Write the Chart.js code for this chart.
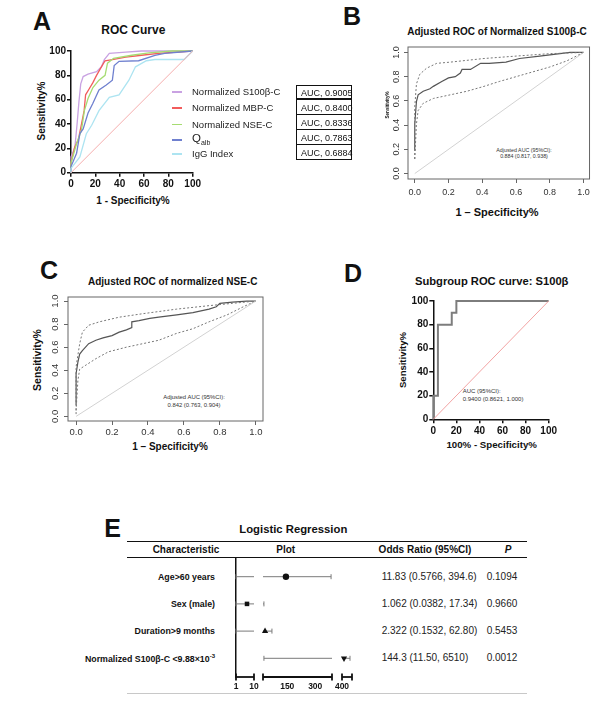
<!DOCTYPE html>
<html><head><meta charset="utf-8">
<script src="https://cdn.jsdelivr.net/npm/chart.js@4.4.1/dist/chart.umd.min.js"></script>
<style>
html,body{margin:0;padding:0;background:#fff;}
body{width:600px;height:704px;position:relative;overflow:hidden;font-family:"Liberation Sans",Arial,sans-serif;color:#111;}
canvas{position:absolute;}
.t{position:absolute;white-space:nowrap;line-height:1;}
.ln{position:absolute;}
</style></head><body>
<script>
// ---------------- DATA ----------------
// Panel A (percent)
const s100bX = [0,0,3.2,5,6.5,8,10,14,21,25,27.4,31.5,45,58,100];
const s100bY = [0,13,21,40,58,73,79,81,83,87,93,98,99,100,100];
const mbpX = [0,0,3,6,8.6,10.8,12,15,18,21,25,28,34,45,58,72,100];
const mbpY = [0,8,21,27,40,51,64,69,74,80,87,92,93,95,96.5,98,100];
const nseX = [0,0,4.6,8.6,11,14,18,23,28,30,35,50,64,83,100];
const nseY = [0,8,24,35,51,61,70,76,80,90,94,96.5,98.4,100,100];
const qalbX = [0,0,4.6,7.3,10,14,18,23,29,34,35.5,39.5,55.6,69,77,100];
const qalbY = [0,5,16,32,36,49,57,68,72,76,88,91.5,92,96.5,98,100];
const iggX = [0,0,7.3,12.6,17,23,31.5,39.5,47.6,53,62,69,93,100];
const iggY = [0,3.5,13,32,39,51,62,64,76,87,92,93,93,100];
const seriesNamesA = ['Normalized S100β-C','Normalized MBP-C','Normalized NSE-C','Q<sub>alb</sub>','IgG Index'];
const aucLabelsA = ['AUC, 0.9005','AUC, 0.8400','AUC, 0.8336','AUC, 0.7863','AUC, 0.6884'];
const diagX = [0,100];
const diagY = [0,100];
// Panel B (fraction)
const bSolidX = [0,0,0.01,0.02,0.05,0.09,0.11,0.16,0.2,0.24,0.27,0.28,0.33,0.39,0.44,0.54,0.62,0.74,0.86,0.92,1.0];
const bSolidY = [0.19,0.41,0.595,0.65,0.68,0.70,0.72,0.76,0.79,0.80,0.83,0.86,0.86,0.91,0.91,0.92,0.95,0.97,0.99,1.0,1.0];
const bUpX = [0,0,0.01,0.03,0.07,0.13,0.21,0.41,0.6,0.8,1.0];
const bUpY = [0.12,0.55,0.74,0.82,0.87,0.91,0.92,0.95,0.97,0.99,1.0];
const bLoX = [0,0.01,0.02,0.05,0.11,0.21,0.31,0.41,0.5,0.6,0.7,0.8,0.9,1.0];
const bLoY = [0.12,0.41,0.52,0.58,0.62,0.65,0.68,0.72,0.76,0.80,0.84,0.88,0.93,1.0];
// Panel C (fraction)
const cSolidX = [0,0,0.01,0.02,0.035,0.07,0.11,0.15,0.2,0.24,0.28,0.31,0.31,0.35,0.41,0.46,0.56,0.65,0.74,0.78,0.8,0.87,0.95,1.0];
const cSolidY = [0.1,0.37,0.47,0.54,0.57,0.63,0.66,0.68,0.70,0.73,0.75,0.77,0.82,0.83,0.85,0.86,0.88,0.90,0.93,0.95,0.98,0.99,1.0,1.0];
const cUpX = [0,0,0.02,0.035,0.07,0.13,0.24,0.37,0.56,0.74,0.87,1.0];
const cUpY = [0.02,0.43,0.63,0.73,0.79,0.82,0.86,0.89,0.93,0.96,0.98,1.0];
const cLoX = [0,0.01,0.02,0.05,0.11,0.18,0.28,0.37,0.46,0.56,0.65,0.74,0.84,0.93,1.0];
const cLoY = [0.05,0.31,0.41,0.44,0.5,0.56,0.6,0.63,0.66,0.72,0.76,0.82,0.88,0.95,1.0];
const rTicks = [0,0.2,0.4,0.6,0.8,1.0];
const unitDiag = [0,1];
// Panel D (percent)
const dX = [0,0,4,4,16,16,20,20,100];
const dY = [0,20,20,80,80,90,90,100,100];
// Panel E (forest, values on the plotted broken axis)
const forestLabels = ['Age&gt;60 years','Sex (male)','Duration&gt;9 months','Normalized S100β-C &lt;9.88×10<sup>-3</sup>'];
const forestOR = ['11.83 (0.5766, 394.6)','1.062 (0.0382, 17.34)','2.322 (0.1532, 62.80)','144.3 (11.50, 6510)'];
const forestP = ['0.1094','0.9660','0.5453','0.0012'];
const orPoint = [143, 6.5, 31, 412];
const orLo = [1, 1, 1, 25];
const orHi = [385, 25, 68, 448];
const forestTicks = [1,10,150,300,400];
const axisBreaks = [[1,10],[20,390],[400,460]];

// ---------------- HELPERS ----------------
Chart.defaults.font.family = '"Liberation Sans", Arial, sans-serif';
Chart.defaults.color = '#111';
const pts = (xs, ys) => xs.map((x, i) => ({x, y: ys[i]}));

function txt(html, x, y, o = {}) {
  const d = document.createElement('div');
  d.className = 't'; d.innerHTML = html;
  d.style.left = x + 'px'; d.style.top = y + 'px';
  d.style.fontSize = (o.size || 10) + 'px';
  d.style.fontWeight = o.bold ? 'bold' : 'normal';
  if (o.italic) d.style.fontStyle = 'italic';
  if (o.color) d.style.color = o.color;
  const ax = o.align === 'left' ? '0' : o.align === 'right' ? '-100%' : '-50%';
  d.style.transform = `translate(${ax},-50%)` + (o.rot ? ` rotate(${o.rot}deg)` : '');
  document.body.appendChild(d);
  return d;
}
function hline(x1, x2, y, w, c) {
  const d = document.createElement('div'); d.className = 'ln';
  d.style.left = x1 + 'px'; d.style.top = (y - w / 2) + 'px';
  d.style.width = (x2 - x1) + 'px'; d.style.height = w + 'px'; d.style.background = c;
  document.body.appendChild(d);
}

// place a chart so that its chart area is (L,T)-(R,B) in page coordinates
function place(L, T, R, B, Wy, Hx, pad, config) {
  const cl = Math.floor(L - Wy - pad.l), ct = Math.floor(T - pad.t);
  const w = Math.ceil(R + pad.r - cl), h = Math.ceil(B + Hx + pad.b - ct);
  const c = document.createElement('canvas');
  c.style.left = cl + 'px'; c.style.top = ct + 'px';
  c.style.width = w + 'px'; c.style.height = h + 'px';
  c.width = w; c.height = h;
  document.body.appendChild(c);
  config.options.layout = {autoPadding: false, padding: {
    left: L - Wy - cl, top: T - ct, right: cl + w - R, bottom: ct + h - Hx - B}};
  config.options.responsive = false;
  config.options.animation = false;
  config.options.events = [];
  config.options.plugins = Object.assign({legend: {display: false}, tooltip: {enabled: false}}, config.options.plugins || {});
  config.options.scales.x.afterFit = s => { s.height = Hx; };
  config.options.scales.y.afterFit = s => { s.width = Wy; };
  return new Chart(c, config);
}

function gpAxis(pad) {
  return {type: 'linear', min: 0, max: 100,
    ticks: {stepSize: 20, padding: pad, font: {size: 10, weight: 'bold'}, color: '#111', autoSkip: false, maxRotation: 0},
    grid: {display: true, drawOnChartArea: false, drawTicks: true, tickLength: 4, color: '#111', lineWidth: 1.5},
    border: {display: true, color: '#111', width: 1.5}};
}
function rAxis(min, max, pad, size, show) {
  return {type: 'linear', min, max,
    afterBuildTicks: s => { s.ticks = rTicks.map(v => ({value: v})); },
    ticks: {display: show, padding: pad, font: {size}, color: '#333', autoSkip: false, maxRotation: 0,
      callback: v => Number(v).toFixed(1)},
    grid: {display: true, drawOnChartArea: false, drawTicks: true, tickLength: 4, color: '#666', lineWidth: 1},
    border: {display: false}};
}
// R-style box + rotated y tick labels
const rBox = {
  id: 'rBox',
  afterDatasetsDraw(chart, args, opts) {
    const {ctx, chartArea: a} = chart;
    ctx.save();
    ctx.strokeStyle = '#666'; ctx.lineWidth = 1;
    ctx.strokeRect(a.left, a.top, a.right - a.left, a.bottom - a.top);
    const ys = chart.scales.y;
    ctx.fillStyle = '#333';
    ctx.font = opts.size + 'px "Liberation Sans", Arial, sans-serif';
    ctx.textAlign = 'center'; ctx.textBaseline = 'middle';
    ys.ticks.forEach(t => {
      ctx.save();
      ctx.translate(a.left - opts.off, ys.getPixelForValue(t.value));
      ctx.rotate(-Math.PI / 2);
      ctx.fillText(Number(t.value).toFixed(1), 0, 0);
      ctx.restore();
    });
    ctx.restore();
  }
};
function line(data, color, width, dash) {
  return {data, showLine: true, borderColor: color, borderWidth: width, borderDash: dash || [],
    pointRadius: 0, fill: false, tension: 0, clip: 3};
}

// ---------------- PANEL A ----------------
const colA = ['#c9a2e2', '#f25c5c', '#a6dc72', '#6f80cf', '#ade4f1'];
txt('A', 42, 21, {size: 25, bold: true});
txt('ROC Curve', 133.3, 30, {size: 12, bold: true});
txt('Sensitivity%', 41.7, 111, {size: 10, bold: true, rot: -90});
txt('1 - Specificity%', 133, 201, {size: 10, bold: true});
place(71, 50.7, 195, 172.7, 30, 24, {l: 2, t: 6, r: 8, b: 2}, {
  type: 'scatter',
  data: {datasets: [
    line(pts(diagX, diagY), '#f5adad', 1),
    line(pts(iggX, iggY), colA[4], 1.3),
    line(pts(qalbX, qalbY), colA[3], 1.3),
    line(pts(nseX, nseY), colA[2], 1.3),
    line(pts(mbpX, mbpY), colA[1], 1.3),
    line(pts(s100bX, s100bY), colA[0], 1.3)
  ]},
  options: {scales: {x: gpAxis(2), y: gpAxis(1)}}
});
// legend
const legY = [92, 108, 124.5, 140, 154];
seriesNamesA.forEach((n, i) => {
  hline(172, 182, legY[i], 1.5, colA[i]);
  if (i === 3) {
    txt('Q<span style="font-size:7px;position:relative;top:3px">alb</span>', 192, legY[i] - 1, {size: 11.5, align: 'left', color: '#222'});
  } else {
    txt(n, 192, legY[i], {size: 9.5, align: 'left', color: '#222'});
  }
});
// AUC boxes
aucLabelsA.forEach((s, i) => {
  const d = document.createElement('div');
  d.className = 'ln';
  d.style.left = '296px'; d.style.top = (85 + i * 15) + 'px';
  d.style.width = '56px'; d.style.height = '14px';
  d.style.border = '1.5px solid #111'; d.style.boxSizing = 'border-box';
  if (i > 0) { d.style.height = '16.5px'; d.style.top = (85 + i * 15 - 1.5) + 'px'; }
  document.body.appendChild(d);
  txt(s, 301, 92.5 + i * 15, {size: 9, align: 'left', color: '#111'});
});

// ---------------- PANEL B ----------------
txt('B', 352, 15.8, {size: 25, bold: true});
txt('Adjusted ROC of Normalized S100β-C', 497, 31.7, {size: 10, bold: true});
txt('Sensitivity%', 388.3, 105, {size: 4.6, bold: true, rot: -90});
txt('1 – Specificity%', 497, 211.7, {size: 11, bold: true});
txt('Adjusted AUC (95%CI):', 524, 150.7, {size: 5.3, color: '#333'});
txt('0.884 (0.817, 0.938)', 524, 157.3, {size: 5.3, color: '#333'});
place(408, 47, 590, 179, 20, 24, {l: 2, t: 4, r: 4, b: 2}, {
  type: 'scatter',
  data: {datasets: [
    line(pts(unitDiag, unitDiag), '#d2d2d2', 1),
    line(pts(bUpX, bUpY), '#777', 1, [2, 2]),
    line(pts(bLoX, bLoY), '#777', 1, [2, 2]),
    line(pts(bSolidX, bSolidY), '#555', 1.2)
  ]},
  options: {scales: {x: rAxis(-0.04, 1.035, 4, 9, true), y: rAxis(-0.045, 1.045, 3, 9, false)},
    plugins: {rBox: {size: 9, off: 11.3}}},
  plugins: [rBox]
});

// ---------------- PANEL C ----------------
txt('C', 49, 270.3, {size: 25, bold: true});
txt('Adjusted ROC of normalized NSE-C', 172.7, 281.7, {size: 10, bold: true});
txt('Sensitivity%', 37.3, 360, {size: 10.5, bold: true, rot: -90});
txt('1 – Specificity%', 170, 447.3, {size: 10, bold: true});
txt('Adjusted AUC (95%CI):', 194, 398.3, {size: 5.9, color: '#333'});
txt('0.842 (0.763, 0.904)', 194, 405.7, {size: 5.9, color: '#333'});
place(68, 297, 263, 421, 20, 22, {l: 2, t: 4, r: 4, b: 2}, {
  type: 'scatter',
  data: {datasets: [
    line(pts(unitDiag, unitDiag), '#d2d2d2', 1),
    line(pts(cUpX, cUpY), '#777', 1, [2, 2]),
    line(pts(cLoX, cLoY), '#777', 1, [2, 2]),
    line(pts(cSolidX, cSolidY), '#555', 1.2)
  ]},
  options: {scales: {x: rAxis(-0.045, 1.04, 2, 9.5, true), y: rAxis(-0.04, 1.035, 3, 9.5, false)},
    plugins: {rBox: {size: 9.5, off: 13}}},
  plugins: [rBox]
});

// ---------------- PANEL D ----------------
txt('D', 353, 272.5, {size: 25, bold: true});
txt('Subgroup ROC curve: S100β', 491.7, 282.3, {size: 11.2, bold: true});
txt('Sensitivity%', 402.7, 360, {size: 9.5, bold: true, rot: -90});
txt('100% - Specificity%', 491.7, 445, {size: 9.7, bold: true});
txt('AUC (95%CI):', 462.7, 390.7, {size: 6, align: 'left', color: '#333'});
txt('0.9400 (0.8621, 1.000)', 462.7, 399, {size: 6, align: 'left', color: '#333'});
place(433.3, 300.7, 550.7, 419.3, 30, 24, {l: 2, t: 6, r: 8, b: 2}, {
  type: 'scatter',
  data: {datasets: [
    line(pts(diagX, diagY), '#f2a3a3', 1),
    line(pts(dX, dY), '#7d7d7d', 2)
  ]},
  options: {scales: {x: gpAxis(2), y: gpAxis(1)}}
});

// ---------------- PANEL E ----------------
txt('E', 112.5, 527.5, {size: 25, bold: true});
txt('Logistic Regression', 293.3, 530, {size: 11.3, bold: true});
hline(126.7, 527, 541.7, 1.5, '#111');
hline(126.7, 527, 557.7, 1.5, '#111');
hline(126.7, 527, 693.5, 1, '#c8c8c8');
txt('Characteristic', 186, 550, {size: 10, bold: true});
txt('Plot', 285.7, 550, {size: 10, bold: true});
txt('Odds Ratio (95%CI)', 425, 550, {size: 10, bold: true});
txt('P', 508, 550, {size: 10, bold: true, italic: true});
const rowY = [576.7, 604, 631, 658.3];
forestLabels.forEach((s, i) => {
  txt(s.replace('<sup>', '<sup style="font-size:6px;vertical-align:4px">'), 215, rowY[i], {size: 8.8, bold: true, align: 'right'});
  txt(forestOR[i], 381.7, rowY[i], {size: 10, align: 'left', color: '#222'});
  txt(forestP[i], 486.7, rowY[i], {size: 10, align: 'left', color: '#222'});
});

class BrokenScale extends Chart.LinearScale {
  _frac(v) {
    const segs = axisBreaks, lo = segs[0][0], hi = segs[segs.length - 1][1];
    // fraction positions of the segments along the axis
    const fr = [[0, 18 / 116], [27 / 116, 96 / 116], [106 / 116, 1]];
    if (v <= lo) return 0;
    if (v >= hi) return 1;
    for (let i = 0; i < segs.length; i++) {
      const s = segs[i], f = fr[i];
      if (v >= s[0] && v <= s[1]) return f[0] + (v - s[0]) / (s[1] - s[0]) * (f[1] - f[0]);
      if (i > 0 && v > segs[i - 1][1] && v < s[0]) {
        const p = segs[i - 1], pf = fr[i - 1];
        return pf[1] + (v - p[1]) / (s[0] - p[1]) * (f[0] - pf[1]);
      }
    }
    return 1;
  }
  getPixelForValue(v) { return this.left + this._frac(v) * this.width; }
  getValueForPixel(p) {
    const f = (p - this.left) / this.width;
    let a = this.min, b = this.max;
    for (let k = 0; k < 40; k++) { const m = (a + b) / 2; if (this._frac(m) < f) a = m; else b = m; }
    return (a + b) / 2;
  }
}
BrokenScale.id = 'broken';
BrokenScale.defaults = Chart.LinearScale.defaults;
Chart.register(BrokenScale);

const forestDraw = {
  id: 'forestDraw',
  beforeDatasetsDraw(chart) {
    const {ctx, chartArea: a} = chart;
    const xs = chart.scales.x, ys = chart.scales.y;
    ctx.save();
    // whiskers, broken with the axis
    ctx.strokeStyle = '#7a7a7a'; ctx.lineWidth = 1;
    orLo.forEach((lo, i) => {
      const hi = orHi[i], y = ys.getPixelForValue(i + 1);
      axisBreaks.forEach(s => {
        const l = Math.max(lo, s[0]), h = Math.min(hi, s[1]);
        if (l < h) {
          ctx.beginPath(); ctx.moveTo(xs.getPixelForValue(l), y); ctx.lineTo(xs.getPixelForValue(h), y); ctx.stroke();
        }
      });
      [lo, hi].forEach(v => {
        const px = xs.getPixelForValue(v);
        ctx.beginPath(); ctx.moveTo(px, y - 2.5); ctx.lineTo(px, y + 2.5); ctx.stroke();
      });
    });
    // broken x axis
    ctx.strokeStyle = '#111'; ctx.lineWidth = 1.8;
    axisBreaks.forEach(s => {
      const p1 = xs.getPixelForValue(s[0]), p2 = xs.getPixelForValue(s[1]);
      ctx.beginPath(); ctx.moveTo(p1, a.bottom); ctx.lineTo(p2, a.bottom); ctx.stroke();
      [p1, p2].forEach(p => { ctx.beginPath(); ctx.moveTo(p, a.bottom - 3.5); ctx.lineTo(p, a.bottom + 3.5); ctx.stroke(); });
    });
    ctx.restore();
  }
};
place(236, 558, 352, 677, 0, 22, {l: 10, t: 4, r: 12, b: 2}, {
  type: 'scatter',
  data: {datasets: [{
    data: orPoint.map((v, i) => ({x: v, y: i + 1})),
    pointStyle: ['circle', 'rect', 'triangle', 'triangle'],
    rotation: [0, 0, 0, 180],
    pointRadius: [3.2, 3.2, 3.6, 3.6],
    backgroundColor: '#111', borderColor: '#111', borderWidth: 0, clip: false
  }]},
  options: {scales: {
    x: {type: 'broken', min: 1, max: 460,
      afterBuildTicks: s => { s.ticks = forestTicks.map(v => ({value: v})); },
      ticks: {padding: 5, font: {size: 8.5, weight: 'bold'}, color: '#111', autoSkip: false, maxRotation: 0, callback: v => String(v)},
      grid: {display: false, drawTicks: false}, border: {display: false}},
    y: {type: 'linear', min: 0.3125, max: 4.6875, reverse: true,
      ticks: {display: false}, grid: {display: false},
      border: {display: true, color: '#111', width: 1.5}}
  }},
  plugins: [forestDraw]
});
</script>
</body></html>
